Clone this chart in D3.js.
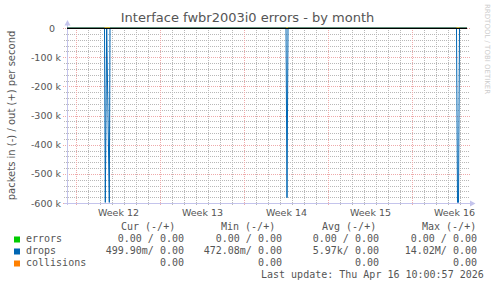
<!DOCTYPE html>
<html>
<head>
<meta charset="utf-8">
<script src="https://cdn.jsdelivr.net/npm/d3@7"></script>
<style>
  body { margin: 0; background: #fff; }
  svg { display: block; }
  text { font-family: "DejaVu Sans", sans-serif; }
  .mono { font-family: "DejaVu Sans Mono", monospace; font-size: 10px; fill: #555; white-space: pre; }
</style>
</head>
<body>
<div id="chart"></div>
<script>
// hours since left edge of graph (1 sample = 2 hours = 1 px), values in packets/s
var dropsIn = [
  [0, 0], [75, 0], [76.6, -598000], [79.4, 0], [84.6, -598000], [86, 0],
  [438, 0], [440, -582000], [442, 0],
  [779, 0], [781, -598000], [783, -598000], [785, 0], [800, 0]
];
var errorsIn = [[0, 0], [800, 0]];
var collisions = [[0, 0], [800, 0]];

var weekLabels = ['Week 12', 'Week 13', 'Week 14', 'Week 15', 'Week 16'];
var weekStarts = [18, 186, 354, 522, 690]; // hours
var yTicks = [0, -100000, -200000, -300000, -400000, -500000, -600000];

var legendNames = ['errors', 'drops', 'collisions'];
var legendColors = ['#00cc00', '#0066b3', '#ff8000'];
var curVals = ['0.00 / 0.00', '499.90m/ 0.00', '0.00'];
var minVals = ['0.00 / 0.00', '472.08m/ 0.00', '0.00'];
var avgVals = ['0.00 / 0.00', '5.97k/ 0.00', '0.00'];
var maxVals = ['0.00 / 0.00', '14.02M/ 0.00', '0.00'];
var headers = ['Cur (-/+)', 'Min (-/+)', 'Avg (-/+)', 'Max (-/+)'];
var lastUpdate = 'Last update: Thu Apr 16 10:00:57 2026';

var W = 497, H = 288;
var svg = d3.select('#chart').append('svg').attr('width', W).attr('height', H);

var x = d3.scaleLinear().domain([0, 800]).range([67, 467]);
var y = d3.scaleLinear().domain([-600000, 0]).range([203, 28]);

// grid
var gridG = svg.append('g').attr('shape-rendering', 'crispEdges');
var minorX = d3.range(18, 800, 24).filter(function(h){ return weekStarts.indexOf(h) < 0; });
var minorY = d3.range(-600000, 1, 20000).filter(function(v){ return v % 100000 !== 0; });
var gray = '#b8b8b8', red = '#eeaaaa';

gridG.selectAll('.vminor').data(minorX).enter().append('line')
  .attr('x1', function(d){ return Math.round(x(d)) + 0.5; })
  .attr('x2', function(d){ return Math.round(x(d)) + 0.5; })
  .attr('y1', 28).attr('y2', 205)
  .attr('stroke', gray).attr('stroke-dasharray', '1,1');
gridG.selectAll('.hminor').data(minorY).enter().append('line')
  .attr('y1', function(d){ return Math.round(y(d)) + 0.5; })
  .attr('y2', function(d){ return Math.round(y(d)) + 0.5; })
  .attr('x1', 64).attr('x2', 470)
  .attr('stroke', gray).attr('stroke-dasharray', '1,1');
gridG.selectAll('.vmajor').data(weekStarts).enter().append('line')
  .attr('x1', function(d){ return Math.round(x(d)) + 0.5; })
  .attr('x2', function(d){ return Math.round(x(d)) + 0.5; })
  .attr('y1', 28).attr('y2', 206)
  .attr('stroke', red).attr('stroke-dasharray', '1,1');
gridG.selectAll('.hmajor').data(yTicks).enter().append('line')
  .attr('y1', function(d){ return Math.round(y(d)) + 0.5; })
  .attr('y2', function(d){ return Math.round(y(d)) + 0.5; })
  .attr('x1', 63).attr('x2', 470)
  .attr('stroke', red).attr('stroke-dasharray', '1,1');

// axes lines + arrows
var axisCol = '#c4c4ec';
svg.append('line').attr('x1', 67.5).attr('x2', 67.5).attr('y1', 25).attr('y2', 205)
  .attr('stroke', axisCol);
svg.append('line').attr('x1', 64).attr('x2', 471).attr('y1', 203.5).attr('y2', 203.5)
  .attr('stroke', axisCol);
svg.append('path').attr('d', 'M64.5,25.5 L67.5,20 L70.5,25.5 Z').attr('fill', axisCol);
svg.append('path').attr('d', 'M470,200.5 L475.5,203.5 L470,206.5 Z').attr('fill', axisCol);

// series
var line = d3.line().x(function(d){ return x(d[0]); }).y(function(d){ return y(d[1]); });
svg.append('path').datum(errorsIn).attr('d', line).attr('fill', 'none').attr('stroke', legendColors[0]);
svg.append('path').datum(collisions).attr('d', line).attr('fill', 'none').attr('stroke', legendColors[2]);
svg.append('path').datum(dropsIn).attr('d', line).attr('fill', 'none').attr('stroke', legendColors[1]).attr('stroke-width', 1);

// zero rule
svg.append('line').attr('x1', 67).attr('x2', 467).attr('y1', y(0) + 0.5).attr('y2', y(0) + 0.5)
  .attr('stroke', '#000').attr('shape-rendering', 'crispEdges');

// tick labels
var yAxis = d3.axisLeft(y).tickValues(yTicks).tickSize(0).tickPadding(6)
  .tickFormat(function(d){ return d === 0 ? '0' : (d / 1000) + ' k'; });
var yg = svg.append('g').attr('transform', 'translate(67,0)').call(yAxis);
yg.select('.domain').remove();
yg.selectAll('text').attr('fill', '#555').style('font-size', '9.5px')
  .attr('dx', function(d){ return d === 0 ? -6 : 0; });

var xAxis = d3.axisBottom(x).tickValues(weekStarts.map(function(h){ return h + 84; }))
  .tickSize(0).tickPadding(6)
  .tickFormat(function(d, i){ return weekLabels[i]; });
var xg = svg.append('g').attr('transform', 'translate(0,203)').call(xAxis);
xg.select('.domain').remove();
xg.selectAll('text').attr('fill', '#555').style('font-size', '9.5px');

// title & labels
svg.append('text').attr('x', 247.5).attr('y', 22).attr('text-anchor', 'middle')
  .attr('fill', '#555').style('font-size', '13px')
  .text('Interface fwbr2003i0 errors - by month');
svg.append('text').attr('transform', 'translate(14.5,115.5) rotate(-90)')
  .attr('text-anchor', 'middle').attr('fill', '#555').style('font-size', '10px')
  .text('packets in (-) / out (+) per second');
svg.append('text').attr('transform', 'translate(485,4) rotate(90)')
  .attr('fill', '#ccc').style('font-size', '7px')
  .text('RRDTOOL / TOBI OETIKER');

// legend
var headX = [121, 221, 322, 422];
var colEnd = [184, 282, 379, 477];
var rowY = [242, 254, 266];
svg.selectAll('.hdr').data(headers).enter().append('text').attr('class', 'mono')
  .attr('x', function(d, i){ return headX[i]; }).attr('y', 230).text(function(d){ return d; });

var rows = svg.selectAll('.lrow').data(legendNames).enter().append('g');
rows.append('rect').attr('x', 14).attr('y', function(d, i){ return rowY[i] - 5.5; })
  .attr('width', 6).attr('height', 6)
  .attr('fill', function(d, i){ return legendColors[i]; });
rows.append('text').attr('class', 'mono').attr('x', 26).attr('y', function(d, i){ return rowY[i]; })
  .text(function(d){ return d; });
[curVals, minVals, avgVals, maxVals].forEach(function(col, c){
  svg.selectAll('.v' + c).data(col).enter().append('text').attr('class', 'mono')
    .attr('x', colEnd[c]).attr('y', function(d, i){ return rowY[i]; })
    .attr('text-anchor', 'end').text(function(d){ return d; });
});
svg.append('text').attr('class', 'mono').attr('x', 261).attr('y', 278).text(lastUpdate);
</script>
</body>
</html>
